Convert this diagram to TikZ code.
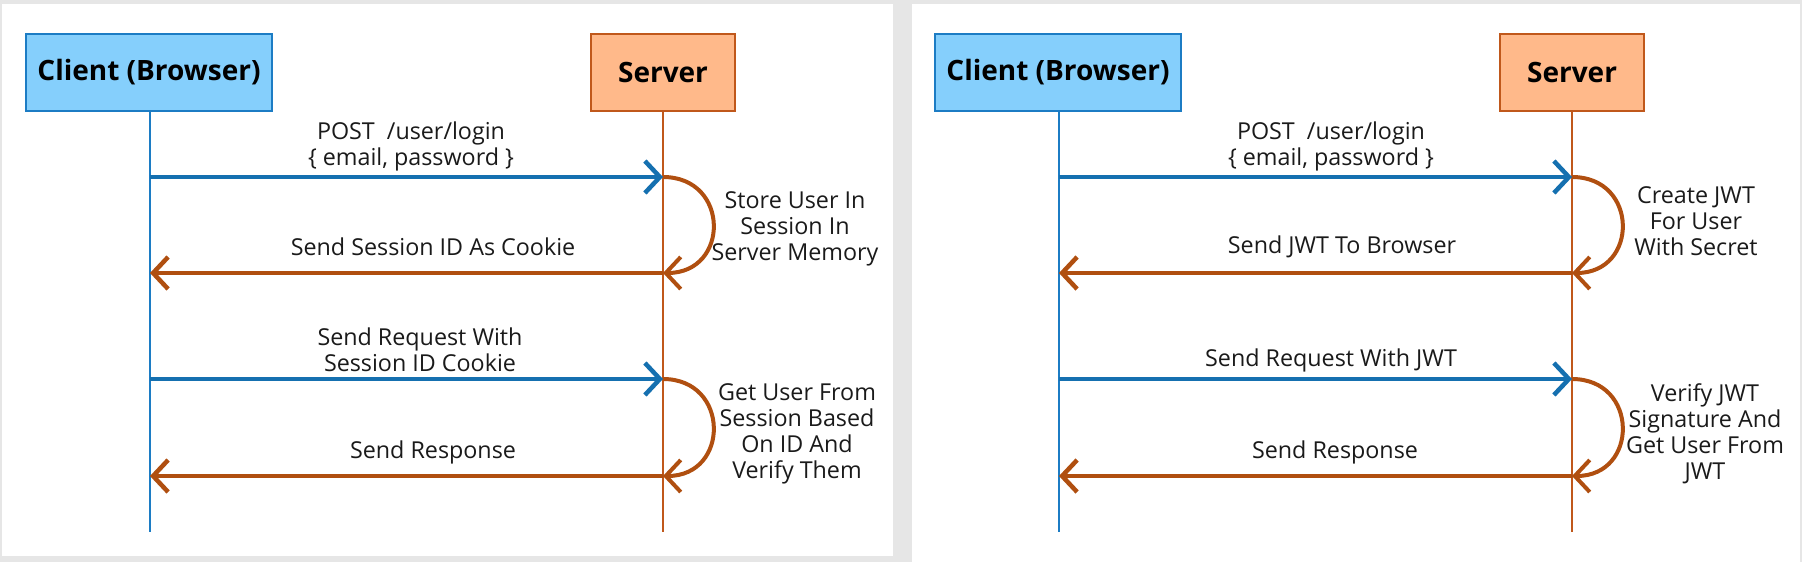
\documentclass[tikz,border=0pt]{standalone}
\usepackage{fontspec}
\setmainfont{Open Sans}
\usetikzlibrary{arrows.meta}
\definecolor{bgray}{HTML}{E6E6E6}
\definecolor{cfill}{HTML}{85CFFC}
\definecolor{cdraw}{HTML}{1C7CC4}
\definecolor{sfill}{HTML}{FFB98A}
\definecolor{sdraw}{HTML}{C0581B}
\definecolor{blu}{HTML}{1570B0}
\definecolor{brn}{HTML}{B04F10}
\definecolor{txt}{HTML}{1A1A1A}
\tikzset{
  clientbox/.style={draw=cdraw, fill=cfill, line width=2pt, minimum width=246pt, minimum height=77pt, inner sep=0pt, text=black, font=\fontsize{28}{31}\selectfont\bfseries},
  serverbox/.style={draw=sdraw, fill=sfill, line width=2pt, minimum width=144pt, minimum height=77pt, inner sep=0pt, text=black, font=\fontsize{28}{31}\selectfont\bfseries},
  lifeC/.style={draw=cdraw, line width=2pt},
  lifeS/.style={draw=sdraw, line width=2pt},
  tipx/.style={-{Straight Barb[length=15pt,width=32pt]}},
  req/.style={draw=blu, line width=4.5pt, tipx},
  resp/.style={draw=brn, line width=4.5pt, tipx},
  proc/.style={draw=brn, line width=4pt, tipx},
  lbl/.style={font=\fontsize{23.3}{26}\selectfont, text=txt, align=center, inner sep=0pt}
}
\begin{document}
\begin{tikzpicture}[x=1pt,y=-1pt]
\useasboundingbox (0,0) rectangle (1802,562);
\fill[bgray] (0,0) rectangle (1802,562);
\fill[white] (2,4) rectangle (893,556);
\fill[white] (912,4) rectangle (1800,562);

% ---------------- left panel ----------------
\node[clientbox] (c1) at (149,72.5) {Client (Browser)};
\node[serverbox] (s1) at (663,72.5) {Server};
\coordinate (c1end) at (150,532);
\coordinate (s1end) at (663,532);
\draw[lifeC] (c1.south -| c1end) -- (c1end);
\draw[lifeS] (s1.south) -- (s1end);

\coordinate (c1a) at (150,177);
\coordinate (s1a) at (663,177);
\coordinate (c1b) at (150,273);
\coordinate (s1b) at (663,273);
\coordinate (c1c) at (150,379);
\coordinate (s1c) at (663,379);
\coordinate (c1d) at (150,476);
\coordinate (s1d) at (663,476);

\draw[req] (c1a) -- (s1a);
\draw[proc] (s1a) .. controls +(67,0) and +(67,0) .. (s1b);
\draw[resp] (s1b) -- (c1b);
\draw[req] (c1c) -- (s1c);
\draw[proc] (s1c) .. controls +(67,0) and +(67,0) .. (s1d);
\draw[resp] (s1d) -- (c1d);

\node[lbl] (l1a) at (411,146.5) {POST\ \ /user/login\\\{ email, password \}};
\node[lbl] (l1p) at (795,229) {Store User In\\Session In\\Server Memory};
\node[lbl] (l1b) at (433,247) {Send Session ID As Cookie};
\node[lbl] (l1c) at (420,349.5) {Send Request With\\Session ID Cookie};
\node[lbl] (l1q) at (797,433.5) {Get User From\\Session Based\\On ID And\\Verify Them};
\node[lbl] (l1d) at (433,452) {Send Response};

% ---------------- right panel ----------------
\node[clientbox] (c2) at (1058,72.5) {Client (Browser)};
\node[serverbox] (s2) at (1572,72.5) {Server};
\coordinate (c2end) at (1059,532);
\coordinate (s2end) at (1572,532);
\draw[lifeC] (c2.south -| c2end) -- (c2end);
\draw[lifeS] (s2.south) -- (s2end);

\coordinate (c2a) at (1059,177);
\coordinate (s2a) at (1572,177);
\coordinate (c2b) at (1059,273);
\coordinate (s2b) at (1572,273);
\coordinate (c2c) at (1059,379);
\coordinate (s2c) at (1572,379);
\coordinate (c2d) at (1059,476);
\coordinate (s2d) at (1572,476);

\draw[req] (c2a) -- (s2a);
\draw[proc] (s2a) .. controls +(67,0) and +(67,0) .. (s2b);
\draw[resp] (s2b) -- (c2b);
\draw[req] (c2c) -- (s2c);
\draw[proc] (s2c) .. controls +(67,0) and +(67,0) .. (s2d);
\draw[resp] (s2d) -- (c2d);

\node[lbl] (l2a) at (1331,146.5) {POST\ \ /user/login\\\{ email, password \}};
\node[lbl] (l2p) at (1696,221.5) {Create JWT\\For User\\With Secret};
\node[lbl] (l2b) at (1342,247) {Send JWT To Browser};
\node[lbl] (l2c) at (1331,360) {Send Request With JWT};
\node[lbl] (l2q) at (1705,433.5) {Verify JWT\\Signature And\\Get User From\\JWT};
\node[lbl] (l2d) at (1335,452) {Send Response};
\end{tikzpicture}
\end{document}
